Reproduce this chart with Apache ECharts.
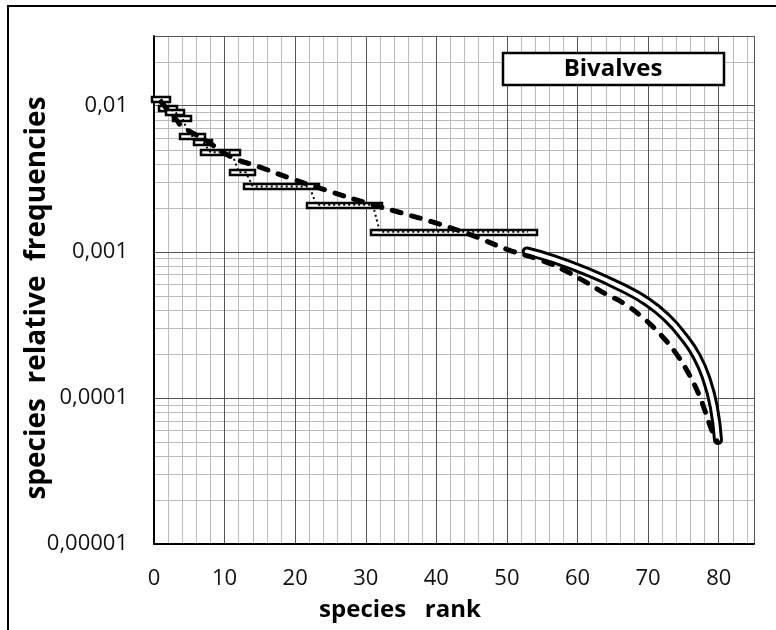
<!DOCTYPE html>
<html>
<head>
<meta charset="utf-8">
<script src="https://cdn.jsdelivr.net/npm/echarts@6/dist/echarts.min.js"></script>
<style>
  html, body { margin: 0; padding: 0; background: #fff; }
  #chart { width: 776px; height: 630px; }
</style>
</head>
<body>
<div id="chart"></div>
<script>
// tied-rank groups (hollow bars): first-1 .. last+1, and their frequency
const groupStart = [0, 1, 2, 3, 4, 6, 7, 11, 13, 22, 31];
const groupEnd = [2, 3, 4, 5, 7, 8, 12, 14, 23, 32, 54];
const groupFreq = [0.0111, 0.0097, 0.0090, 0.0083, 0.0062, 0.0056, 0.0048, 0.0035, 0.0028, 0.0021, 0.00137];

// observed species (dotted line), rank 1..53
const obsRank = [1, 2, 3, 4, 5, 6, 7, 8, 9, 10, 11, 12, 13, 14, 15, 16, 17, 18, 19, 20,
  21, 22, 23, 24, 25, 26, 27, 28, 29, 30, 31, 32, 33, 34, 35, 36, 37, 38, 39, 40,
  41, 42, 43, 44, 45, 46, 47, 48, 49, 50, 51, 52, 53];
const obsFreq = [0.0111, 0.0097, 0.0090, 0.0083, 0.0062, 0.0062, 0.0056,
  0.0048, 0.0048, 0.0048, 0.0048, 0.0035, 0.0035,
  0.0028, 0.0028, 0.0028, 0.0028, 0.0028, 0.0028, 0.0028, 0.0028, 0.0028,
  0.0021, 0.0021, 0.0021, 0.0021, 0.0021, 0.0021, 0.0021, 0.0021, 0.0021,
  0.00137, 0.00137, 0.00137, 0.00137, 0.00137, 0.00137, 0.00137, 0.00137, 0.00137, 0.00137, 0.00137,
  0.00137, 0.00137, 0.00137, 0.00137, 0.00137, 0.00137, 0.00137, 0.00137, 0.00137, 0.00137, 0.00137];

// dashed model curve
const dashRank = [1, 2, 3, 4, 6, 8, 11, 15, 20, 25, 30, 35, 40, 45, 50, 55, 58, 61, 64, 66.5,
  69.3, 72.2, 74.1, 75.7, 77.1, 78.1, 79, 79.8];
const dashFreq = [0.0106, 0.0093, 0.0082, 0.0072, 0.0063, 0.0055, 0.00445, 0.0038, 0.0031, 0.00258,
  0.00217, 0.00185, 0.00157, 0.0013, 0.00104, 0.00087, 0.000753, 0.000627, 0.000515, 0.000445,
  0.000352, 0.000257, 0.000197, 0.000148, 0.000108, 0.0000805, 0.0000604, 0.0000502];

// solid (double line) tail curve
const tailRank = [52.8, 56.6, 61.3, 66.0, 69.8, 72.7, 75.0, 76.9, 78.3, 79.3, 79.9];
const tailFreq = [0.001005, 0.000891, 0.000733, 0.000578, 0.000457, 0.000352, 0.000263, 0.000192,
  0.000133, 0.0000871, 0.0000515];

const yTicks = ['0,00001', '0,0001', '0,001', '0,01'];

const zip = (a, b) => a.map((v, i) => [v, b[i]]);

// log minor grid lines 2..9 per decade
let minorY = [];
for (let d = -5; d <= -2; d++) {
  for (let m = 2; m <= 9; m++) {
    let v = m * Math.pow(10, d);
    if (v < 0.03) minorY.push([0, v]);
  }
}

let chart = echarts.init(document.getElementById('chart'));
let font = '"Open Sans", "Noto Sans", sans-serif';

let option = {
  animation: false,
  backgroundColor: '#fff',
  grid: { left: 154, top: 36, width: 600, height: 508, show: false },
  xAxis: [
    {
      type: 'value', min: 0, max: 85, interval: 10, z: 2,
      axisLine: { show: true, lineStyle: { color: '#000', width: 2 } },
      axisTick: { show: false },
      axisLabel: { showMaxLabel: false, margin: 24, color: '#111', fontSize: 22, fontFamily: font },
      splitLine: { show: true, lineStyle: { color: '#555', width: 1 } }
    },
    {
      type: 'value', min: 0, max: 85, interval: 2, position: 'top', z: 0,
      axisLine: { show: false }, axisTick: { show: false }, axisLabel: { show: false },
      splitLine: { show: true, lineStyle: { color: '#bbb', width: 1 } }
    }
  ],
  yAxis: {
    type: 'log', logBase: 10, min: 0.00001, max: 0.03, z: 2,
    axisLine: { show: true, lineStyle: { color: '#000', width: 2 } },
    axisTick: { show: false },
    axisLabel: {
      showMaxLabel: false, margin: 26, color: '#111', fontSize: 22, fontFamily: font,
      formatter: v => {
        let n = Math.round(Math.log10(v));
        return yTicks[n + 5] || '';
      }
    },
    splitLine: { show: true, lineStyle: { color: '#555', width: 1 } }
  },
  series: [
    {
      // minor horizontal grid of the log axis
      type: 'custom', z: 1, silent: true, data: minorY,
      renderItem: (params, api) => {
        let cs = params.coordSys;
        let y = Math.round(api.coord([0, api.value(1)])[1]) + 0.5;
        return {
          type: 'line',
          shape: { x1: cs.x, y1: y, x2: cs.x + cs.width, y2: y },
          style: { stroke: '#bbb', lineWidth: 1 }
        };
      }
    },
    {
      type: 'custom', z: 3,
      data: groupStart.map((s, i) => [s, groupEnd[i], groupFreq[i]]),
      encode: { x: [0, 1], y: 2 },
      renderItem: (params, api) => {
        let p1 = api.coord([api.value(0), api.value(2)]);
        let p2 = api.coord([api.value(1), api.value(2)]);
        let y = Math.round(p1[1]);
        return {
          type: 'rect',
          shape: { x: Math.round(p1[0]) - 2, y: y - 2, width: Math.round(p2[0] - p1[0]) + 4, height: 5 },
          style: { fill: '#fff', stroke: '#000', lineWidth: 2.5 }
        };
      }
    },
    {
      type: 'line', z: 4, data: zip(obsRank, obsFreq), showSymbol: false,
      lineStyle: { color: '#000', width: 2, type: [2, 3] }
    },
    {
      type: 'line', z: 5, data: zip(tailRank, tailFreq), showSymbol: false, smooth: true,
      lineStyle: { color: '#000', width: 10, cap: 'round' }
    },
    {
      type: 'line', z: 5, data: zip(tailRank, tailFreq), showSymbol: false, smooth: true,
      lineStyle: { color: '#fff', width: 4, cap: 'round' }
    },
    {
      type: 'line', z: 6, data: zip(dashRank, dashFreq), showSymbol: false, smooth: true,
      lineStyle: { color: '#000', width: 5, type: [9, 11], cap: 'round' }
    }
  ],
  graphic: [
    {
      type: 'rect', z: 10, silent: true,
      shape: { x: 8, y: 6, width: 800, height: 700 },
      style: { fill: 'none', stroke: '#000', lineWidth: 2 }
    },
    {
      type: 'rect', z: 10,
      shape: { x: 503, y: 53, width: 221, height: 32 },
      style: { fill: '#fff', stroke: '#000', lineWidth: 2.5 }
    },
    {
      type: 'text', z: 11, x: 613, y: 69,
      style: {
        text: 'Bivalves', font: 'bold 24px ' + font, fill: '#000',
        align: 'center', verticalAlign: 'middle', textAlign: 'center', textVerticalAlign: 'middle'
      }
    },
    {
      type: 'text', z: 11, x: 400, y: 610,
      style: {
        text: 'species   rank', font: 'bold 24px ' + font, fill: '#000',
        align: 'center', verticalAlign: 'middle', textAlign: 'center', textVerticalAlign: 'middle'
      }
    },
    {
      type: 'text', z: 11, x: 37, y: 298, rotation: Math.PI / 2,
      style: {
        text: 'species  relative  frequencies', font: 'bold 28px ' + font, fill: '#000',
        align: 'center', verticalAlign: 'middle', textAlign: 'center', textVerticalAlign: 'middle'
      }
    }
  ]
};
chart.setOption(option);
</script>
</body>
</html>
